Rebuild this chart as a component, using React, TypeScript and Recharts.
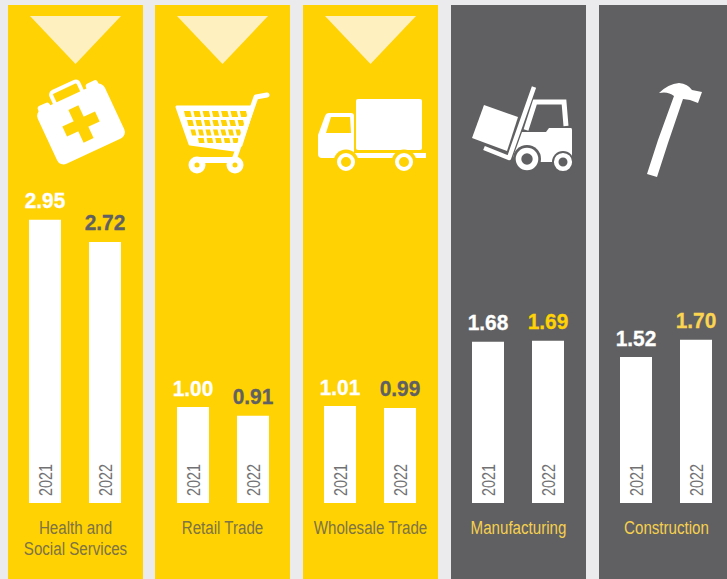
import React from "react";
import { BarChart, Bar, XAxis, YAxis, LabelList } from "recharts";

const categories = [
  "Health and\nSocial Services",
  "Retail Trade",
  "Wholesale Trade",
  "Manufacturing",
  "Construction",
];
const years = ["2021", "2022"];
const values2021 = [2.95, 1.0, 1.01, 1.68, 1.52];
const values2022 = [2.72, 0.91, 0.99, 1.69, 1.7];

const YELLOW = "#ffd204";
const DARK = "#606062";
const PALE = "#fef0bf";
const SANS = "'Liberation Sans', sans-serif";

const panelX = [8, 155, 303, 451, 599];
const chartX = [8, 156, 303, 451, 599];
const panelFill = [YELLOW, YELLOW, YELLOW, DARK, DARK];
const nameColor = ["#7d7343", "#7d7343", "#7d7343", "#f6d04e", "#f6d04e"];
const valueColors = [
  ["#ffffff", DARK],
  ["#ffffff", DARK],
  ["#ffffff", DARK],
  ["#ffffff", YELLOW],
  ["#ffffff", "#fbd551"],
];

const MedKit = () => (
  <g transform="rotate(-25 81 124)">
    <rect x={44} y={94} width={74} height={60} rx={7} fill="#fff" />
    <rect x={48} y={90} width={13} height={8} rx={3} fill="#fff" />
    <rect x={101} y={90} width={13} height={8} rx={3} fill="#fff" />
    <rect x={66} y={83} width={30} height={14} rx={3} fill="none" stroke="#fff" strokeWidth={4} />
    <rect x={75.5} y={106} width={11} height={36} fill={YELLOW} />
    <rect x={63} y={118.5} width={36} height={11} fill={YELLOW} />
  </g>
);

const cartRows = [
  { y: 111, h: 6, left: 184, right: 249, n: 7, skew: 1.5 },
  { y: 120, h: 6, left: 187, right: 246, n: 7, skew: 1.5 },
  { y: 129.5, h: 6, left: 190.5, right: 243, n: 7, skew: 1.5 },
  { y: 138, h: 5, left: 198, right: 241, n: 5, skew: 1 },
];

const Cart = () => (
  <g>
    <path d="M177 107 L253 107 L241 145 L234 150 L190 144 Z" fill="#fff" stroke="#fff" strokeWidth={3} strokeLinejoin="round" />
    {cartRows.map((r) =>
      Array.from({ length: r.n }, (_, i) => {
        const w = (r.right - r.left) / r.n;
        const x = r.left + i * w;
        return (
          <path
            key={`${r.y}-${i}`}
            d={`M${x} ${r.y} L${x + w - 3} ${r.y} L${x + w - 3 + r.skew} ${r.y + r.h} L${x + r.skew} ${r.y + r.h} Z`}
            fill={YELLOW}
          />
        );
      })
    )}
    <path d="M267 95 L256 97 L234 160" fill="none" stroke="#fff" strokeWidth={5} strokeLinecap="round" strokeLinejoin="round" />
    <path d="M197 160 L235 160" stroke="#fff" strokeWidth={6} />
    <circle cx={197} cy={165} r={5.5} fill={YELLOW} stroke="#fff" strokeWidth={6} />
    <circle cx={235} cy={165} r={5.5} fill={YELLOW} stroke="#fff" strokeWidth={6} />
  </g>
);

const Truck = () => (
  <g fill="#fff">
    <rect x={356} y={99} width={66} height={51} rx={2} />
    <path d="M318 135 L325 116 Q326 113 329 113 L351 113 Q354 113 354 116 L354 158 L322 158 Q318 158 318 154 Z" />
    <path d="M331 117 L350 117 L351 133 L326 133 Z" fill={YELLOW} />
    <rect x={354} y={153} width={72} height={5} />
    <path d="M389 150 Q404 137 419 150 Z" />
    {[346, 404].map((cx) => (
      <g key={cx}>
        <circle cx={cx} cy={162} r={12.5} fill={YELLOW} />
        <circle cx={cx} cy={162} r={7} fill={YELLOW} stroke="#fff" strokeWidth={4} />
      </g>
    ))}
  </g>
);

const Forklift = () => (
  <g fill="#fff">
    <path d="M484 105 L518 117 L507 151 L472 138 Z" />
    <path d="M534 87 L509 158 L484 148" fill="none" stroke="#fff" strokeWidth={4.5} strokeLinejoin="round" />
    <path d="M526 130 L535 102 L564 102 L566 126" fill="none" stroke="#fff" strokeWidth={5} />
    <path d="M522 132 L546 132 L549 128 L571 128 Q572 128 572 130 L572 162 L525 162 L513 157 Z" />
    <circle cx={527} cy={159} r={14} fill={DARK} />
    <circle cx={527} cy={159} r={8.5} fill={DARK} stroke="#fff" strokeWidth={5.6} />
    <circle cx={563} cy={162} r={11} fill={DARK} />
    <circle cx={563} cy={162} r={6.8} fill={DARK} stroke="#fff" strokeWidth={4.6} />
  </g>
);

const Hammer = () => (
  <path
    d="M659 93 Q668 84 679 83 Q688 84 692 90 L702 92 L698 103 L690 100 L683 99 L668 143 L657 177 L647 174 L658 140 L674 96 Q668 91 659 93 Z"
    fill="#fff"
  />
);

const icons = [MedKit, Cart, Truck, Forklift, Hammer];

const valueLabel = (colors: string[]) => (p: any) => (
  <text
    transform={`translate(${p.x + p.width / 2} ${p.y - 11.5}) scale(0.95 1)`}
    textAnchor="middle"
    fontFamily={SANS}
    fontWeight={700}
    fontSize={22}
    stroke={colors[p.index]}
    strokeWidth={0.3}
    fill={colors[p.index]}
  >
    {Number(p.value).toFixed(2)}
  </text>
);

const yearLabel = (p: any) => {
  const cx = p.x + p.width / 2;
  return (
    <text
      transform={`translate(${cx + 6.5} 496) rotate(-90) scale(0.8 1)`}
      fontFamily={SANS}
      fontSize={18}
      fill="#717173"
    >
      {p.value}
    </text>
  );
};

const Panel = ({ index }: { index: number }) => {
  const rows = years.map((year, i) => ({
    year,
    value: i === 0 ? values2021[index] : values2022[index],
  }));
  return (
    <div style={{ position: "absolute", left: chartX[index], top: 0 }}>
      <BarChart width={135} height={503} data={rows} margin={{ top: 0, right: 8, bottom: 0, left: 7 }}>
        <XAxis dataKey="year" hide />
        <YAxis hide domain={[0, 5.24]} />
        <Bar dataKey="value" fill="#ffffff" barSize={32} isAnimationActive={false}>
          <LabelList dataKey="value" content={valueLabel(valueColors[index])} />
          <LabelList dataKey="year" content={yearLabel} />
        </Bar>
      </BarChart>
    </div>
  );
};

export default function App() {
  return (
    <div style={{ position: "fixed", left: 0, top: 0, width: 727, height: 579, overflow: "hidden", background: "#ebebed" }}>
      <svg width={727} height={579} style={{ position: "absolute", left: 0, top: 0 }}>
        {panelX.map((x, i) => {
          const Icon = icons[i];
          return (
            <g key={x}>
              <rect x={x} y={5} width={135} height={574} fill={panelFill[i]} />
              {i < 3 && <path d={`M${x + 22} 16 L${x + 113} 16 L${x + 67.5} 64 Z`} fill={PALE} />}
              <Icon />
            </g>
          );
        })}
      </svg>
      {categories.map((_, i) => (
        <Panel key={i} index={i} />
      ))}
      {categories.map((name, i) => (
        <div
          key={name}
          style={{
            position: "absolute",
            left: panelX[i] - 20,
            top: 518,
            width: 175,
            textAlign: "center",
            whiteSpace: "pre",
            fontFamily: SANS,
            fontSize: 18,
            lineHeight: "21px",
            color: nameColor[i],
            transform: "scaleX(0.84)",
          }}
        >
          {name}
        </div>
      ))}
    </div>
  );
}
